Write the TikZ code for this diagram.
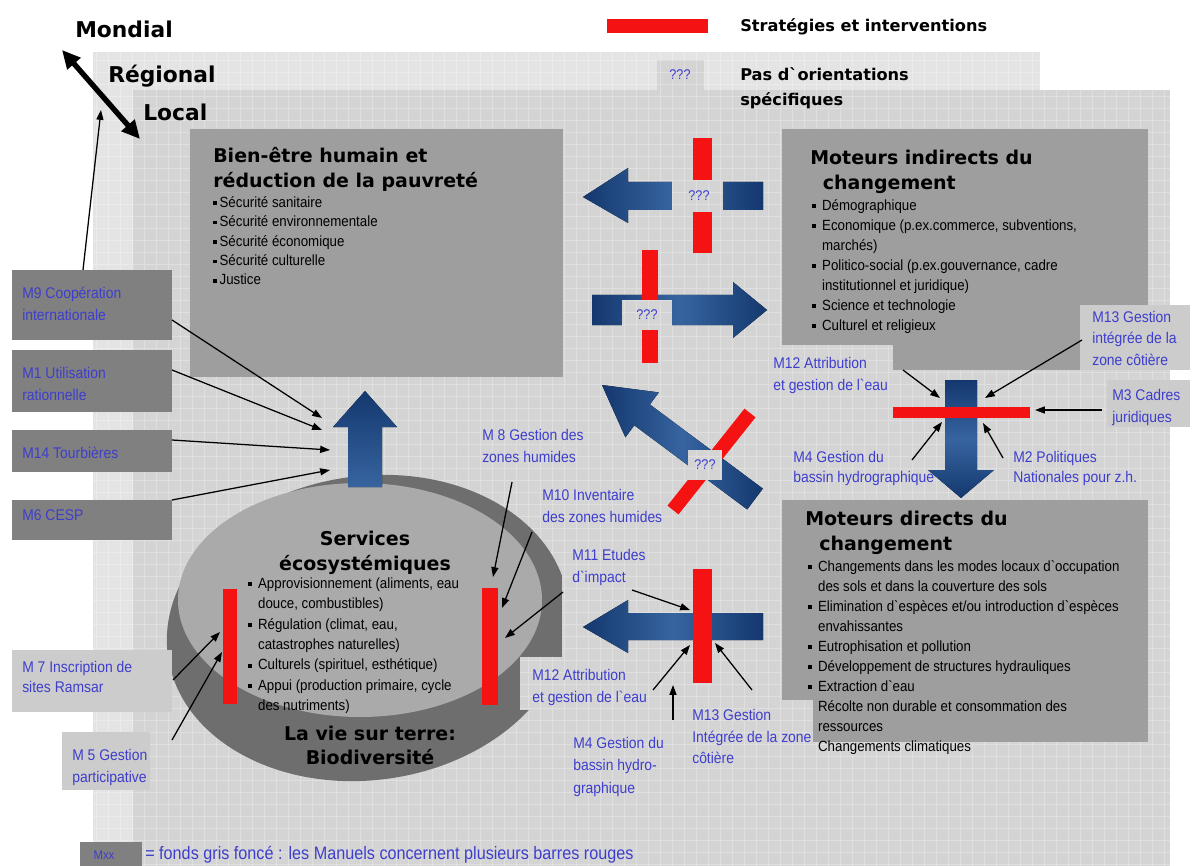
\documentclass[tikz,border=0pt]{standalone}
\usepackage{fontspec}
\setmainfont{Liberation Sans}
\newfontfamily\nar[FakeStretch=0.9]{Liberation Sans}
\newfontfamily\hdb{DejaVu Sans Bold}
\usetikzlibrary{arrows.meta}
\definecolor{regbg}{RGB}{228,228,228}
\definecolor{locbg}{RGB}{212,212,212}
\definecolor{boxg}{RGB}{158,158,158}
\definecolor{darkbox}{RGB}{128,128,128}
\definecolor{lightbox}{RGB}{204,204,204}
\definecolor{lblue}{RGB}{62,62,205}
\definecolor{navy}{RGB}{20,56,110}
\definecolor{navyl}{RGB}{55,100,160}
\definecolor{redbar}{RGB}{245,18,18}
\definecolor{ellL}{RGB}{170,170,170}
\definecolor{ellD}{RGB}{110,110,110}
\newcommand\tp{\rule{0pt}{10pt}}
\newcommand\tph{\rule{0pt}{13pt}}
\newcommand\bul{\makebox[7pt][l]{\rule[1.6pt]{2.6pt}{2.6pt}}}
\newcommand\bulb{\makebox[4.5pt][l]{\rule[1.6pt]{2.6pt}{2.6pt}}}
\newcommand\ind{\hspace*{7pt}}
\newcommand\cover[2]{\fill[locbg] #1 rectangle #2; \draw[gridl] #1 grid #2;}
\begin{document}
\begin{tikzpicture}[x=0.025cm,y=-0.025cm,
  lbl/.style={inner sep=0pt, anchor=north west, align=left, text=lblue, font=\nar\fontsize{11}{15.5}\selectfont},
  bodyt/.style={inner sep=0pt, anchor=north west, align=left, font=\nar\fontsize{10.5}{14.2}\selectfont},
  headt/.style={inner sep=0pt, anchor=north west, align=left, font=\hdb\fontsize{13.5}{17.7}\selectfont},
  bigt/.style={inner sep=0pt, anchor=base west, font=\hdb\fontsize{15.5}{18}\selectfont},
  midt/.style={inner sep=0pt, anchor=north west, align=left, font=\hdb\fontsize{11.5}{17.7}\selectfont},
  qm/.style={inner sep=0pt, text=lblue, font=\nar\fontsize{10}{12}\selectfont},
  tarrow/.style={-{Triangle[length=7pt,width=5pt]}, line width=0.9pt, black},
  barrow/.style={draw=none, left color=navy, right color=navy, middle color=navyl},
  varrow/.style={draw=none, top color=navy, bottom color=navyl},
  gridl/.style={white, opacity=0.28, line width=0.25pt, xstep=0.3cm, ystep=0.3cm}
]
\useasboundingbox (0,0) rectangle (1196,866);
\fill[white] (0,0) rectangle (1196,866);
% panels
\fill[regbg] (93,52) rectangle (1040,866);
\draw[gridl] (93,52) grid (1040,866);
\fill[locbg] (133,90) rectangle (1170,866);
\fill[locbg] (657,60) rectangle (704,90);
\draw[gridl] (133,90) grid (1170,866);
\draw[gridl] (657,60) grid (704,90);
% scale labels
\node[bigt] (mond) at (75,38) {Mondial};
\node[bigt] (regi) at (108,83) {Régional};
\node[bigt] (loca) at (143,121) {Local};
\coordinate (dA) at (62,50);
\coordinate (dB) at (140,139);
\draw[line width=3.8pt, {Triangle[length=13pt,width=12pt]}-{Triangle[length=13pt,width=12pt]}] (dA) -- (dB);
% legend
\fill[redbar] (607,19) rectangle (708,33);
\node[inner sep=0pt, anchor=base west, font=\hdb\fontsize{11.5}{14}\selectfont] (leg) at (740,32) {Stratégies et interventions};
\node[qm] (q0) at (680,75) {???};
\node[midt] (pas) at (740,62) {\tph Pas d`orientations\\spécifiques};
% main boxes
\fill[boxg] (190,129) rectangle (563,377);
\node[headt] (bt) at (213,144) {\tph Bien-être humain et\\réduction de la pauvreté};
\node[bodyt, font=\nar\fontsize{10.5}{13.8}\selectfont] (bb) at (213,193) {\tp\bulb Sécurité sanitaire\\\bulb Sécurité environnementale\\\bulb Sécurité économique\\\bulb Sécurité culturelle\\\bulb Justice};
\fill[boxg] (782,129) rectangle (1148,370);
\node[headt] (it) at (810,146) {\tph Moteurs indirects du\\\hspace*{9pt}changement};
\node[bodyt] (ib) at (812,196) {\tp\bul Démographique\\\bul Economique (p.ex.commerce, subventions,\\\ind marchés)\\\bul Politico-social (p.ex.gouvernance, cadre\\\ind institutionnel et juridique)\\\bul Science et technologie\\\bul Culturel et religieux};
\fill[boxg] (782,500) rectangle (1148,742);
\node[headt] (dt) at (805,507) {\tph Moteurs directs du\\\hspace*{10pt}changement};
\node[bodyt] (db) at (808,557) {\tp\bul Changements dans les modes locaux d`occupation\\\ind des sols et dans la couverture des sols\\\bul Elimination d`espèces et/ou introduction d`espèces\\\ind envahissantes\\\bul Eutrophisation et pollution\\\bul Développement de structures hydrauliques\\\bul Extraction d`eau\\\ind Récolte non durable et consommation des\\\ind ressources\\\ind Changements climatiques};
% ecosystem disc
\fill[ellD, rotate around={8:(368,628)}] (368,628) ellipse [x radius=202, y radius=152];
\fill[ellL] (360,600) ellipse [x radius=182, y radius=117];
\fill[redbar] (223,589) rectangle (237,704);
\fill[redbar] (482,588) rectangle (498,705);
\node[headt, anchor=north, align=center] (st) at (365,527) {\tph Services\\écosystémiques};
\node[bodyt, font=\nar\fontsize{10.5}{14.5}\selectfont] (sb) at (248,574) {\tp\bul Approvisionnement (aliments, eau\\\ind douce, combustibles)\\\bul Régulation (climat, eau,\\\ind catastrophes naturelles)\\\bul Culturels (spirituel, esthétique)\\\bul Appui (production primaire, cycle\\\ind des nutriments)};
\node[headt, anchor=north, align=center, font=\hdb\fontsize{13.5}{17}\selectfont] (vt) at (370,722) {\tph La vie sur terre:\\Biodiversité};
% covering label boxes
\cover{(562,530)}{(680,657)}
\cover{(520,657)}{(680,710)}
\cover{(680,700)}{(813,765)}
\cover{(765,345)}{(893,395)}
\fill[lightbox] (1080,305) rectangle (1190,370);
\fill[lightbox] (1107,380) rectangle (1190,427);
% left label boxes
\fill[darkbox] (12,270) rectangle (172,340);
\fill[darkbox] (12,350) rectangle (172,412);
\fill[darkbox] (12,430) rectangle (172,472);
\fill[darkbox] (12,500) rectangle (172,540);
\fill[lightbox] (12,650) rectangle (172,712);
\fill[lightbox] (62,732) rectangle (150,790);
% labels
\node[lbl] (m9) at (22,284) {\tp M9 Coopération\\internationale};
\node[lbl] (m1) at (22,364) {\tp M1 Utilisation\\rationnelle};
\node[lbl] (m14) at (22,444) {\tp M14 Tourbières};
\node[lbl] (m6) at (22,506) {\tp M6 CESP};
\node[lbl, font=\nar\fontsize{11}{14.5}\selectfont] (m7) at (22,658) {\tp M 7 Inscription de\\sites Ramsar};
\node[lbl, font=\nar\fontsize{11}{16}\selectfont] (m5) at (72,746) {\tp M 5 Gestion\\participative};
\node[lbl] (m8) at (482,426) {\tp M 8 Gestion des\\zones humides};
\node[lbl] (m10) at (542,486) {\tp M10 Inventaire\\des zones humides};
\node[lbl] (m11) at (572,546) {\tp M11 Etudes\\d`impact};
\node[lbl] (m12b) at (532,666) {\tp M12 Attribution\\et gestion de l`eau};
\node[lbl, font=\nar\fontsize{11}{16}\selectfont] (m4b) at (573,734) {\tp M4 Gestion du\\bassin hydro-\\graphique};
\node[lbl, font=\nar\fontsize{11}{15.5}\selectfont] (m13b) at (692,706) {\tp M13 Gestion\\Intégrée de la zone\\côtière};
\node[lbl] (m12a) at (773,354) {\tp M12 Attribution\\et gestion de l`eau};
\node[lbl, font=\nar\fontsize{11}{15.3}\selectfont] (m13a) at (1092,308) {\tp M13 Gestion\\intégrée de la\\zone côtière};
\node[lbl] (m3) at (1112,386) {\tp M3 Cadres\\juridiques};
\node[lbl, font=\nar\fontsize{11}{14.2}\selectfont] (m4a) at (793,448) {\tp M4 Gestion du\\bassin hydrographique};
\node[lbl, font=\nar\fontsize{11}{14.2}\selectfont] (m2) at (1013,448) {\tp M2 Politiques\\Nationales pour z.h.};
% big blue arrows
\fill[varrow] (348,487) -- (348,427) -- (333,427) -- (365,391) -- (397,427) -- (382,427) -- (382,487) -- cycle;
\fill[barrow] (583,197) -- (628,168) -- (628,182) -- (763,182) -- (763,210) -- (628,210) -- (628,223) -- cycle;
\fill[redbar] (693,138) rectangle (712,253);
\cover{(672,180)}{(723,212)}
\node[qm] (q1) at (699,196) {???};
\fill[barrow] (592,295) -- (733,295) -- (733,282) -- (767,310) -- (733,338) -- (733,325) -- (592,325) -- cycle;
\fill[redbar] (642,250) rectangle (658,363);
\cover{(622,300)}{(672,330)}
\node[qm] (q2) at (647,315) {???};
\fill[barrow] (762.8,488.6) -- (649.9,404.5) -- (658.8,392.4) -- (602,385) -- (625.4,437.4) -- (634.3,425.3) -- (747.2,509.4) -- cycle;
\coordinate (rdA) at (750,413);
\coordinate (rdB) at (673,510);
\draw[redbar, line width=10pt] (rdA) -- (rdB);
\cover{(688,450)}{(722,480)}
\node[qm] (q3) at (705,465) {???};
\fill[barrow] (583,627) -- (628,600) -- (628,613) -- (763,613) -- (763,640) -- (628,640) -- (628,653) -- cycle;
\fill[redbar] (693,569) rectangle (712,683);
\fill[varrow, top color=navy, bottom color=navy, middle color=navyl] (945,380) -- (977,380) -- (977,470) -- (994,470) -- (961,498) -- (928,470) -- (945,470) -- cycle;
\fill[redbar] (893,407) rectangle (1030,418);
% thin arrows
\path (83,270) coordinate (s0) (101,110) coordinate (e0)
  (172,320) coordinate (s1) (322,418) coordinate (e1)
  (172,370) coordinate (s2) (322,430) coordinate (e2)
  (172,440) coordinate (s3) (330,450) coordinate (e3)
  (172,500) coordinate (s4) (330,470) coordinate (e4)
  (173,680) coordinate (s5) (220,632) coordinate (e5)
  (172,740) coordinate (s6) (222,652) coordinate (e6)
  (512,482) coordinate (s7) (493,577) coordinate (e7)
  (532,532) coordinate (s8) (502,608) coordinate (e8)
  (563,592) coordinate (s9) (505,638) coordinate (e9)
  (632,590) coordinate (s10) (690,610) coordinate (e10)
  (653,690) coordinate (s11) (690,645) coordinate (e11)
  (673,720) coordinate (s12) (673,685) coordinate (e12)
  (752,690) coordinate (s13) (715,643) coordinate (e13)
  (903,370) coordinate (s14) (940,398) coordinate (e14)
  (1082,340) coordinate (s15) (985,398) coordinate (e15)
  (1102,410) coordinate (s16) (1035,410) coordinate (e16)
  (912,460) coordinate (s17) (942,422) coordinate (e17)
  (1003,458) coordinate (s18) (983,423) coordinate (e18);
\foreach \i in {0,...,18} { \draw[tarrow] (s\i) -- (e\i); }
% bottom legend
\fill[darkbox] (80,842) rectangle (142,866);
\node[qm, font=\nar\fontsize{9}{11}\selectfont] (mxx) at (104,855) {Mxx};
\node[inner sep=0pt, anchor=base west, text=lblue, font=\nar\fontsize{12.8}{15}\selectfont] (legb) at (145,859) {= fonds gris foncé : les Manuels concernent plusieurs barres rouges};
\end{tikzpicture}
\end{document}
